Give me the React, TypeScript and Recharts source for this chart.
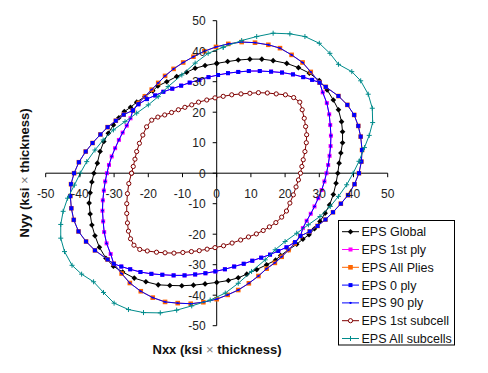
import React from 'react';
import { ScatterChart, Scatter, XAxis, YAxis, ReferenceLine } from 'recharts';

type P = [number, number];

const X_TICKS = [-50, -40, -30, -20, -10, 0, 10, 20, 30, 40, 50];
const Y_TICKS = [-50, -40, -30, -20, -10, 0, 10, 20, 30, 40, 50];

const GLOBAL: P[] = [
  [0, 36], [3.2, 36.6], [6.3, 37.1], [9.7, 37.4], [13.2, 37.4], [16.5, 36.9], [20.5, 36], [23.9, 34.6],
  [27.1, 32.8], [30, 30.4], [32.3, 27.3], [34.1, 24], [35.6, 20.8], [36.5, 16.9], [36.8, 13.6], [36.8, 10],
  [36.3, 6.6], [35.8, 3.3], [35.4, 0], [34.9, -3.3], [34.1, -7], [33, -10.4], [31.7, -13.1], [30.2, -15.8],
  [28.6, -18.2], [27, -20.2], [25.2, -21.6], [23.4, -23.3], [21, -25.1], [18.7, -27], [17.2, -28.5], [14.6, -30],
  [11.7, -31.6], [8.8, -33.1], [6.3, -34.3], [3.4, -35.2], [0, -35.8], [-3.4, -36.3], [-6.8, -36.7], [-10.2, -36.9],
  [-13.7, -36.8], [-17.1, -36.6], [-20.7, -35.6], [-24.1, -34.4], [-27.5, -32.4], [-30.2, -30.5], [-32.4, -27.9],
  [-34.3, -24.3], [-35.6, -20.5], [-36.5, -17], [-37, -13.4], [-37.3, -9.8], [-37, -6.4], [-36.5, -2.9], [-35.9, 0],
  [-34.9, 3.3], [-34.1, 7.1], [-33, 10.4], [-31.7, 13.1], [-30.2, 15.8], [-28.6, 18.2], [-27, 20.2], [-25.2, 21.6],
  [-23.4, 23.3], [-21, 25.1], [-18.7, 27], [-17.2, 28.6], [-14.6, 30], [-11.7, 31.7], [-8.8, 33.1], [-6.3, 34.4],
  [-3.4, 35.3], [0, 36],
];

// Envelope pieces shared by the ply curves (corner points included at both ends)
const INNER_TOP: P[] = [
  [-24.5, 20.6], [-22.9, 22.6], [-20.4, 24.3], [-18, 25.5], [-15.6, 26.7], [-13, 27.7], [-10.4, 28.7], [-7.9, 29.7],
  [-5.1, 30.6], [-2.4, 31.5], [0.4, 32.2], [3.3, 32.8], [6.3, 33.2], [9.4, 33.5], [12.6, 33.5], [15.9, 33.3],
  [19.1, 33], [22.3, 32.4], [25.3, 31.5], [27.9, 30.6], [30.1, 29.7],
];
const INNER_RIGHT: P[] = [
  [31, 26.5], [32.2, 23], [32.9, 19.3], [33.2, 15.8], [33.4, 12.3], [33.3, 8.9], [33, 5.7], [32.6, 2.7], [32.1, 0],
  [31.5, -2.7], [30.7, -5.5], [29.7, -8.2], [28.6, -10.9], [27.5, -13.3], [26.3, -15.6], [25.2, -18], [24.5, -20.6],
];
const INNER_BOTTOM: P[] = [
  [22.9, -22.6], [20.4, -24.3], [18, -25.5], [15.6, -26.7], [13, -27.7], [10.4, -28.7], [7.9, -29.7], [5.1, -30.6],
  [2.4, -31.5], [-0.4, -32.2], [-3.3, -32.8], [-6.3, -33.2], [-9.4, -33.5], [-12.6, -33.5], [-15.9, -33.3],
  [-19.1, -33], [-22.3, -32.4], [-25.3, -31.5], [-27.9, -30.6], [-30.1, -29.7],
];
const INNER_LEFT: P[] = [
  [-31, -26.5], [-32.2, -23], [-32.9, -19.3], [-33.2, -15.8], [-33.4, -12.3], [-33.3, -8.9], [-33, -5.7],
  [-32.6, -2.7], [-32.1, 0], [-31.5, 2.7], [-30.7, 5.5], [-29.7, 8.2], [-28.6, 10.9], [-27.5, 13.3], [-26.3, 15.6],
  [-25.2, 18], [-24.5, 20.6],
];
const OUTER_TOP: P[] = [
  [-24.5, 20.6], [-22.8, 23], [-21, 25.2], [-19, 27.4], [-17.1, 29.6], [-15.1, 31.9], [-12.6, 34.2], [-9.8, 36.3],
  [-6.8, 38.2], [-3.6, 40], [-0.2, 41.4], [3.4, 42.4], [7.3, 43], [11.2, 42.8], [15.1, 42.1], [18.5, 41],
  [21.9, 38.8], [25.1, 36.3], [27.5, 33.2], [30.1, 29.7],
];
const OUTER_RIGHT: P[] = [
  [31.9, 28.3], [35.6, 25.3], [38.2, 22.4], [40.2, 19.1], [41.4, 15.5], [42.1, 12], [42.5, 7.6], [42.3, 3.8],
  [41.6, 0], [40.3, -3.6], [38.4, -7.2], [36.3, -10], [34, -12.8], [31.8, -15.2], [29.5, -17.3], [27.2, -19.1],
  [24.5, -20.6],
];
const OUTER_BOTTOM: P[] = [
  [22.8, -23], [21, -25.2], [19, -27.4], [17, -29.4], [14.6, -31.3], [12.2, -33.7], [9.4, -36.1], [6.3, -38.3],
  [3.2, -39.9], [0, -41.3], [-3.9, -42.3], [-7.6, -42.8], [-11.4, -42.6], [-15.1, -42.2], [-18.7, -40.8],
  [-22.2, -38.7], [-25.4, -36], [-27.8, -32.9], [-30.1, -29.7],
];
const OUTER_LEFT: P[] = [
  [-31.9, -28.3], [-35.6, -25.3], [-38.2, -22.4], [-40.4, -19.1], [-41.8, -15.3], [-42.5, -11.5], [-42.8, -7.5],
  [-42.6, -3.6], [-41.7, 0], [-40.3, 3.6], [-38.3, 7.1], [-36.3, 9.9], [-34, 12.7], [-31.9, 15.1], [-29.5, 17.2],
  [-27.2, 19.2], [-24.5, 20.6],
];

const SUBCELL_1ST: P[] = [
  [-24.9, 0], [-24.4, 2.2], [-23.9, 4.6], [-23.4, 7.1], [-22.6, 9.8], [-21.6, 12.5], [-20.5, 15.2], [-19, 17.4],
  [-17.2, 18.4], [-15.2, 19.1], [-13.2, 19.9], [-11.2, 20.8], [-9.3, 21.6], [-7.3, 22.4], [-5.3, 23.3], [-2.9, 24],
  [-0.5, 24.7], [1.9, 25.2], [4.4, 25.7], [7.1, 26], [9.7, 26.2], [12.2, 26.4], [14.8, 26.3], [17.4, 26],
  [20.1, 25.7], [22.5, 24.8], [24.3, 23.3], [25, 20.8], [25.6, 18], [26, 15.3], [26.3, 12.6], [26.2, 10],
  [25.8, 7.1], [25.3, 4.4], [24.9, 2.2], [24.5, 0], [23.9, -2.2], [23.2, -4.5], [22.4, -7.1], [21.4, -9.8],
  [20.4, -12.4], [19, -14.4], [17.3, -16.2], [15.4, -17.6], [13.6, -18.8], [11.6, -19.9], [9.3, -20.9], [7, -21.9],
  [4.5, -22.9], [2, -23.8], [-0.5, -24.4], [-2.8, -24.9], [-5.1, -25.4], [-7.4, -25.7], [-9.9, -26], [-12.5, -26.2],
  [-15.1, -26.1], [-17.6, -25.9], [-20.3, -25.5], [-22.5, -25], [-24.2, -23.6], [-25.2, -21.5], [-25.8, -19],
  [-26.1, -16.3], [-26.3, -13.2], [-26.3, -10], [-26.1, -6.7], [-25.7, -3.4], [-24.9, 0],
];

const SUBCELL_ALL: P[] = [
  [1.9, 41.3], [7.3, 43.5], [11.7, 44.8], [16.5, 45.9], [21.4, 45.7], [25.8, 44.8], [30, 42.6], [33.1, 39.3],
  [35.6, 35.7], [39.5, 33.3], [42.1, 30.3], [44.3, 25.9], [45.5, 21.3], [45.6, 16.6], [44.6, 12.4], [43.2, 8.4],
  [41.6, 3.9], [39.9, 0], [38, -3.8], [35.6, -7.6], [33.2, -10.9], [30.2, -14.2], [26.8, -16.9], [23.4, -19.7],
  [20, -22.4], [17.1, -25.1], [14.2, -28.4], [10.2, -32.2], [6.3, -36.1], [2.5, -39.3], [-1.9, -41.6],
  [-7.3, -43.5], [-11.7, -44.9], [-16.5, -45.8], [-21.4, -45.7], [-25.8, -44.7], [-30, -42.6], [-33.1, -39.1],
  [-36, -35.6], [-39.5, -33.1], [-42.3, -30.2], [-44.5, -25.7], [-45.6, -21.3], [-45.6, -16.8], [-44.9, -12.5],
  [-43.6, -8.2], [-41.6, -3.9], [-39.9, 0], [-38, 3.8], [-35.6, 7.6], [-33.2, 10.9], [-30.2, 14.2], [-26.8, 16.9],
  [-23.4, 19.7], [-20, 22.4], [-17.1, 25.1], [-14.2, 28.4], [-10.2, 32.2], [-6.3, 36.1], [-2.5, 39.3], [1.9, 41.3],
];

const NAMES = ['EPS Global', 'EPS 1st ply', 'EPS All Plies', 'EPS 0 ply', 'EPS 90 ply', 'EPS 1st subcell', 'EPS All subcells'];
const COLORS = ['#000000', '#FF00FF', '#FF6600', '#0000FF', '#0000FF', '#800000', '#008B8B'];
const MARKERS = ['diamond', 'square', 'bigsquare', 'square', 'tick', 'circle', 'plus'];

const SERIES_POINTS: P[][] = [
  GLOBAL,
  [...INNER_TOP, ...INNER_RIGHT, ...INNER_BOTTOM, ...INNER_LEFT],
  [...OUTER_TOP, ...OUTER_RIGHT, ...OUTER_BOTTOM, ...OUTER_LEFT],
  [...INNER_TOP, ...OUTER_RIGHT, ...INNER_BOTTOM, ...OUTER_LEFT],
  [...OUTER_TOP, ...INNER_RIGHT, ...OUTER_BOTTOM, ...INNER_LEFT],
  SUBCELL_1ST,
  SUBCELL_ALL,
];

const W = 488;
const H = 373;
const LEFT = 45.7;
const TOP = 20.7;
const PW = 342;
const PH = 305;
const OX = LEFT + PW / 2;
const OY = TOP + PH / 2;
const XAXIS_H = 30;
const YAXIS_W = 40;
const FONT = "'Liberation Sans', Arial, sans-serif";

function Marker({ kind, cx, cy, color }: { kind: string; cx: number; cy: number; color: string }) {
  if (cx == null || cy == null) return null;
  switch (kind) {
    case 'diamond':
      return <polygon points={`${cx},${cy - 2.8} ${cx + 2.8},${cy} ${cx},${cy + 2.8} ${cx - 2.8},${cy}`} fill={color} />;
    case 'square':
      return <rect x={cx - 2} y={cy - 2} width={4} height={4} fill={color} />;
    case 'bigsquare':
      return <rect x={cx - 2.3} y={cy - 2.3} width={4.6} height={4.6} fill={color} />;
    case 'tick':
      return <path d={`M${cx - 1.5},${cy}H${cx + 1.5}M${cx},${cy - 1}V${cy + 1}`} stroke={color} strokeWidth={1} />;
    case 'circle':
      return <circle cx={cx} cy={cy} r={2.1} fill="#ffffff" stroke={color} strokeWidth={1} />;
    case 'plus':
      return <path d={`M${cx - 2.5},${cy}H${cx + 2.5}M${cx},${cy - 2.5}V${cy + 2.5}`} stroke={color} strokeWidth={1} />;
    default:
      return null;
  }
}

const renderXTick = (props: any) => {
  const { x, payload } = props;
  return (
    <g key={`xt-${payload.value}`}>
      <line x1={x} x2={x} y1={OY} y2={OY + 4} stroke="#000" />
      <text x={x} y={OY + 25} textAnchor="middle" fontSize={12} fontFamily={FONT} fill="#222">{payload.value}</text>
    </g>
  );
};

const renderYTick = (props: any) => {
  const { y, payload } = props;
  return (
    <g key={`yt-${payload.value}`}>
      <line x1={OX - 4} x2={OX} y1={y} y2={y} stroke="#000" />
      <text x={OX - 11} y={y + 4.5} textAnchor="end" fontSize={12} fontFamily={FONT} fill="#222">{payload.value}</text>
    </g>
  );
};

export default function App() {
  return (
    <div style={{ position: 'absolute', left: 0, top: 0, width: W, height: H, background: '#fff' }}>
      <ScatterChart
        width={W}
        height={H}
        margin={{ top: TOP, left: LEFT - YAXIS_W, right: W - LEFT - PW, bottom: H - TOP - PH - XAXIS_H }}
      >
        <XAxis
          type="number"
          dataKey="x"
          domain={[-50, 50]}
          ticks={X_TICKS}
          allowDataOverflow
          height={XAXIS_H}
          axisLine={false}
          tickLine={false}
          tick={renderXTick}
          interval={0}
        />
        <YAxis
          type="number"
          dataKey="y"
          domain={[-50, 50]}
          ticks={Y_TICKS}
          allowDataOverflow
          width={YAXIS_W}
          axisLine={false}
          tickLine={false}
          tick={renderYTick}
          interval={0}
        />
        <ReferenceLine x={0} stroke="#000" strokeWidth={1} />
        <ReferenceLine y={0} stroke="#000" strokeWidth={1} />
        {SERIES_POINTS.map((pts, i) => (
          <Scatter
            key={NAMES[i]}
            name={NAMES[i]}
            data={pts.map(([x, y]) => ({ x, y }))}
            line={{ stroke: COLORS[i], strokeWidth: 1 }}
            lineType="joint"
            isAnimationActive={false}
            shape={(p: any) => <Marker kind={MARKERS[i]} cx={p.cx} cy={p.cy} color={COLORS[i]} />}
          />
        ))}
      </ScatterChart>
      <svg width={W} height={H} style={{ position: 'absolute', left: 0, top: 0, pointerEvents: 'none' }}>
        <text
          transform={`translate(28.5,173) rotate(-90)`}
          textAnchor="middle"
          fontSize={13}
          fontWeight="bold"
          fontFamily={FONT}
          fill="#111"
        >
          Nyy (ksi <tspan fontWeight="normal" fill="#777">×</tspan> thickness)
        </text>
        <text x={217} y={353.5} textAnchor="middle" fontSize={13} fontWeight="bold" fontFamily={FONT} fill="#111">
          Nxx (ksi <tspan fontWeight="normal" fill="#777">×</tspan> thickness)
        </text>
        <rect x={338.5} y={220.5} width={116} height={124.5} fill="#fff" stroke="#000" strokeWidth={1} />
        {NAMES.map((n, i) => {
          const cy = 231.7 + i * 17.8;
          return (
            <g key={n}>
              <line x1={342} x2={359} y1={cy} y2={cy} stroke={COLORS[i]} strokeWidth={1} />
              <Marker kind={MARKERS[i]} cx={350.5} cy={cy} color={COLORS[i]} />
              <text x={361.5} y={cy + 4.5} fontSize={12.5} fontFamily={FONT} fill="#111">{n}</text>
            </g>
          );
        })}
      </svg>
    </div>
  );
}
